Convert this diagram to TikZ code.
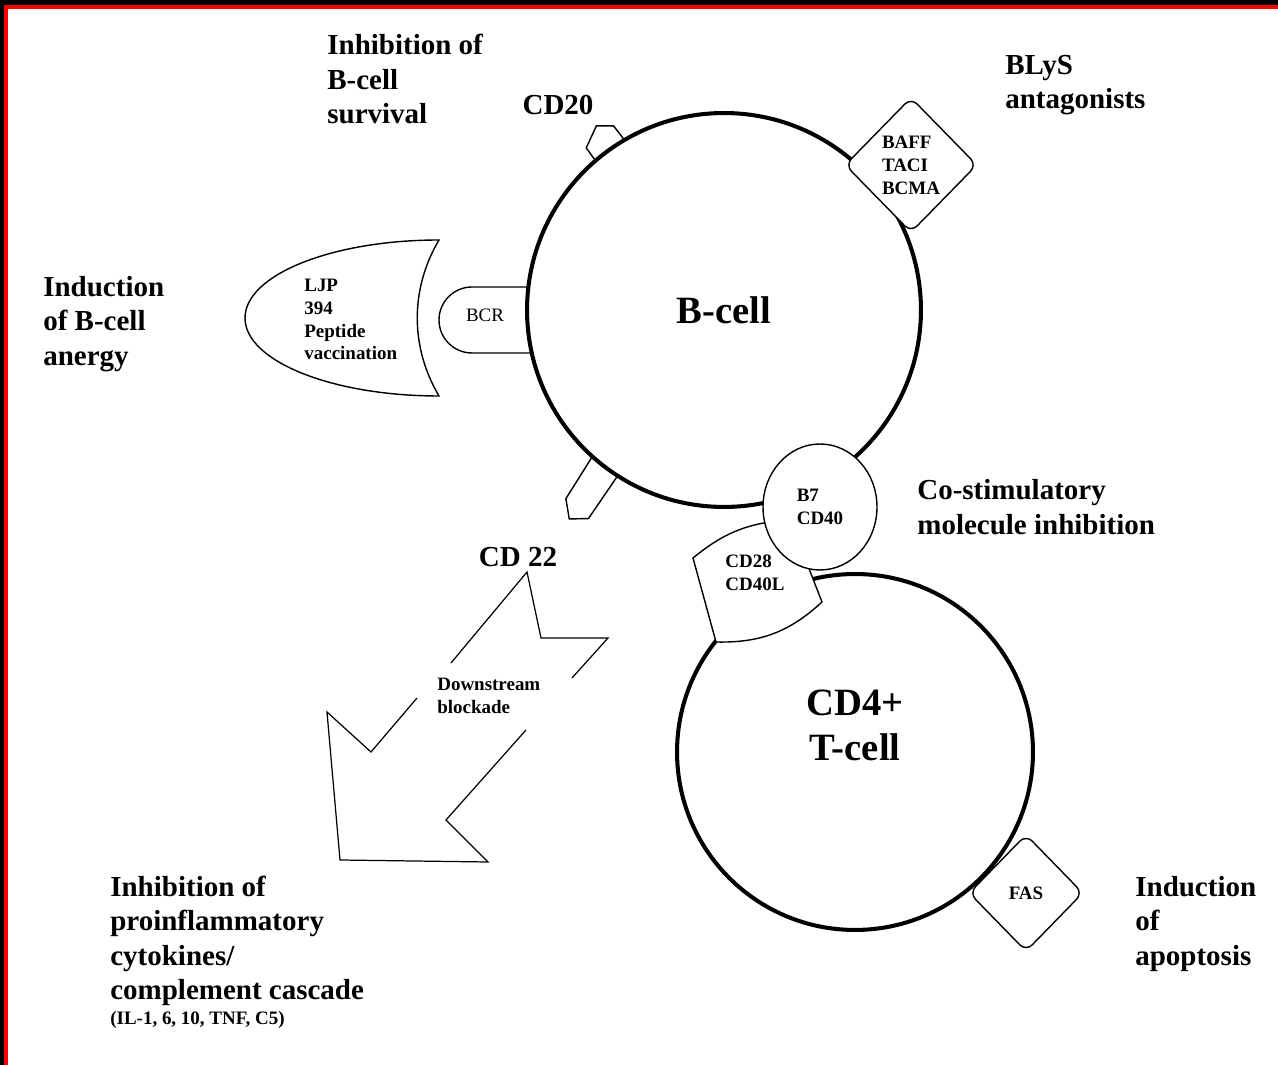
\documentclass[tikz,border=0pt]{standalone}
\usepackage{fontspec}
\setmainfont{Liberation Serif}
\usepackage{tikz}
\usetikzlibrary{shapes.geometric,positioning,calc}

\tikzset{
  cell/.style={circle, draw, line width=2.3pt, fill=white, inner sep=0pt},
  part/.style={draw, line width=0.8pt, fill=white},
  head/.style={font=\bfseries\fontsize{16.5}{19.5}\selectfont, align=left, inner sep=0pt},
  tag/.style={font=\bfseries\fontsize{10.8}{13}\selectfont, align=left, inner sep=0pt},
  big/.style={font=\bfseries\fontsize{22}{25.6}\selectfont, align=center, inner sep=0pt}
}

\begin{document}
\begin{tikzpicture}[x=0.02cm,y=0.02cm]
\useasboundingbox (0,0) rectangle (1278,1065);
\fill[black] (0,1060) rectangle (1278,1065);
\fill[red] (8,1056) rectangle (1278,1060);
\fill[black] (0,0) rectangle (4,1065);
\fill[red] (4,0) rectangle (8,1060);

% receptors sitting on the B-cell
\begin{scope}[shift={(724,755)},rotate=35.5]
\draw[part] (-18,188) -- (-18,212) -- (3,224) -- (17,214) -- (18,188);
\end{scope}
\begin{scope}[shift={(724,755)},rotate=142.6]
\draw[part] (16,192) -- (11,246) -- (-4,260) -- (-19,248) -- (-16,192);
\end{scope}
\draw[part] (545,778) -- (472,778) arc[start angle=90,end angle=270,radius=33] -- (545,712);
\node[inner sep=0pt, font=\fontsize{10.8}{13}\selectfont] (bcr) at (485,750) {BCR};

% the two cells
\node[cell, big, minimum size=7.88cm] (bcell) at (724,755) {B-cell};
\node[cell, minimum size=7.12cm] (tcell) at (855,313) {};
\node[big] (tname) at (855,340) {CD4+\\T-cell};

\draw[part] (693,507) to[bend left=18] (790,545) -- (822,463) to[bend left=22] (716,423) -- cycle;
\node[tag] (cd28) at (755,492) {CD28\\CD40L};
\node[ellipse, part, tag, minimum width=2.28cm, minimum height=2.52cm] (b7) at (820,558) {B7\\CD40};
\node[diamond, part, tag, rounded corners=5pt, minimum width=2.64cm, minimum height=2.7cm] (baff) at (911,900) {BAFF\\TACI\\BCMA};
\node[diamond, part, tag, rounded corners=5pt, minimum width=2.28cm, minimum height=2.34cm] (fas) at (1026,172) {FAS};

% peptide
\draw[part] (439,825) arc[start angle=90,end angle=270,x radius=194,y radius=78] .. controls (410,718) and (410,776) .. (439,825) -- cycle;
\node[tag, anchor=west] (ljp) at (304,745.5) {LJP\\394\\Peptide\\vaccination};

% block arrow
\draw[line width=0.7pt] (451,402) -- (527,493) -- (541,427) -- (608,427) -- (572,387);
\draw[line width=0.7pt] (417,367) -- (371,313) -- (327,353) -- (340,205) -- (488,203) -- (446,245) -- (526,335);
\node[tag, anchor=west] (down) at (437,369.5) {Downstream\\blockade};

\node[head, anchor=west] (surv) at (327,986) {Inhibition of\\B-cell\\survival};
\node[head] (cd20) at (558,960) {CD20};
\node[head, anchor=west] (blys) at (1005,980) {BLyS\\antagonists};
\node[head, anchor=west] (anergy) at (43,741) {Induction\\of B-cell\\anergy};
\node[head, anchor=west] (costim) at (917,558) {Co-stimulatory\\molecule inhibition};
\node[head] (cd22) at (518,508) {CD 22};
\node[head, anchor=west] (cyto) at (110,124) {Inhibition of\\proinflammatory\\cytokines/\\complement cascade};
\node[tag, below right=3pt and 0pt of cyto.south west] (il) {(IL-1, 6, 10, TNF, C5)};
\node[head, anchor=west] (apop) at (1135,141) {Induction\\of\\apoptosis};
\end{tikzpicture}
\end{document}
